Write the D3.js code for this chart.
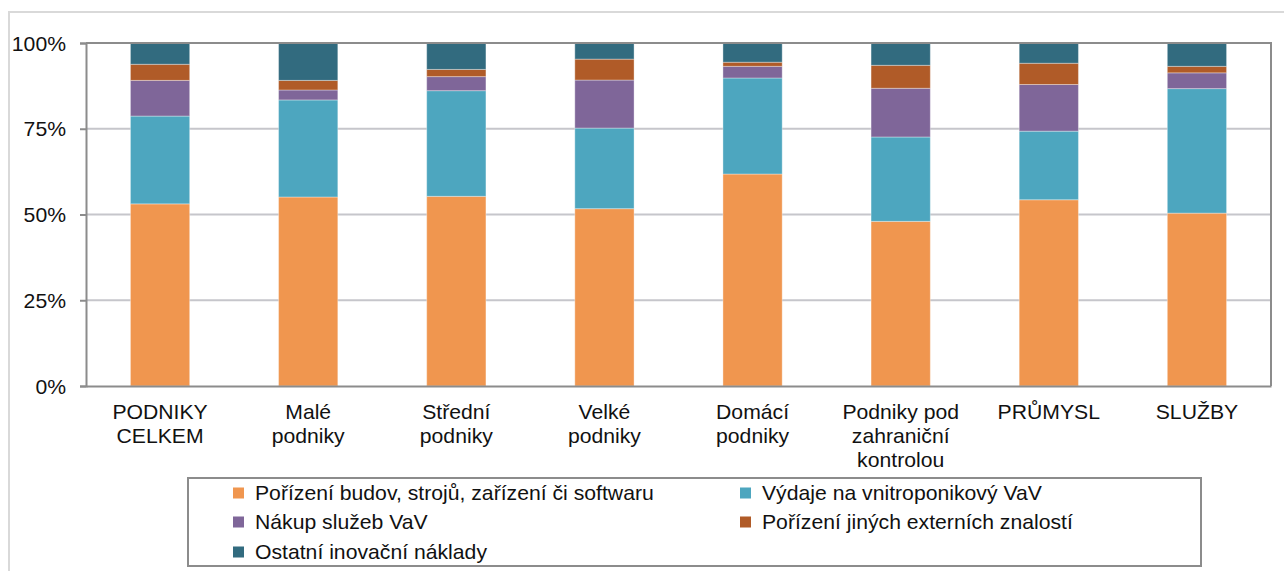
<!DOCTYPE html>
<html>
<head>
<meta charset="utf-8">
<script src="https://cdn.jsdelivr.net/npm/d3@7"></script>
<style>
  body { margin: 0; background: #fff; }
  text { font-family: "Liberation Sans", Arial, sans-serif; fill: #111; }
</style>
</head>
<body>
<div id="chart"></div>
<script>
// categories (x axis), lines split with "\n"
const categories = ["PODNIKY\nCELKEM", "Malé\npodniky", "Střední\npodniky", "Velké\npodniky",
  "Domácí\npodniky", "Podniky pod\nzahraniční\nkontrolou", "PRŮMYSL", "SLUŽBY"];

const seriesNames = ["Pořízení budov, strojů, zařízení či softwaru", "Výdaje na vnitroponikový VaV",
  "Nákup služeb VaV", "Pořízení jiných externích znalostí", "Ostatní inovační náklady"];

// shares in %, one array per series, in category order
const porizeniBudov = [53.1, 55.1, 55.3, 51.7, 61.8, 48.0, 54.3, 50.4];
const vydajeVaV     = [25.6, 28.3, 30.8, 23.5, 28.0, 24.6, 20.0, 36.3];
const nakupVaV      = [10.4, 2.9, 4.1, 14.0, 3.4, 14.2, 13.6, 4.6];
const jineZnalosti  = [4.7, 2.8, 2.1, 6.1, 1.2, 6.7, 6.2, 1.9];
const ostatni       = [6.2, 10.9, 7.7, 4.7, 5.6, 6.5, 5.9, 6.8];

const yTicks = [0, 25, 50, 75, 100];
const colors = ["#f0964f", "#4da6bf", "#7f6699", "#b05b28", "#326b7f"];

const seriesValues = [porizeniBudov, vydajeVaV, nakupVaV, jineZnalosti, ostatni];
const keys = seriesNames;
const table = categories.map(function(c, i) {
  const row = {cat: c};
  keys.forEach(function(k, j) { row[k] = seriesValues[j][i]; });
  return row;
});

const W = 1284, H = 571;
const plot = {left: 86, right: 1271, top: 43, bottom: 386};
const fs = 20, stretch = 1.06; // source text is a bit wide

const svg = d3.select("#chart").append("svg")
  .attr("width", W).attr("height", H);

// outer chart frame
svg.append("rect")
  .attr("x", 9).attr("y", 12).attr("width", W + 20).attr("height", H + 20)
  .attr("fill", "none").attr("stroke", "#d9d9d9").attr("stroke-width", 2);

const x = d3.scaleBand()
  .domain(categories)
  .range([plot.left, plot.right])
  .paddingInner(0.6).paddingOuter(0.3);

const y = d3.scaleLinear()
  .domain([0, 100])
  .range([plot.bottom, plot.top]);

// gridlines
svg.append("g").selectAll("line")
  .data(yTicks.slice(1, -1))
  .enter().append("line")
  .attr("x1", plot.left).attr("x2", plot.right)
  .attr("y1", function(d) { return y(d); })
  .attr("y2", function(d) { return y(d); })
  .attr("stroke", "#c6c6cb").attr("stroke-width", 2);

const stack = d3.stack().keys(keys)(table);

svg.append("g").selectAll("g")
  .data(stack)
  .enter().append("g")
  .attr("fill", function(d, i) { return colors[i]; })
  .selectAll("rect")
  .data(function(d) { return d; })
  .enter().append("rect")
  .attr("x", function(d) { return x(d.data.cat); })
  .attr("width", x.bandwidth())
  .attr("y", function(d) { return y(d[1]); })
  .attr("height", function(d) { return y(d[0]) - y(d[1]); })
  .attr("stroke", "#ffffff").attr("stroke-opacity", 0.35).attr("stroke-width", 1);

// plot frame (top + right) and axes
svg.append("path")
  .attr("d", "M" + plot.left + "," + plot.top + "H" + plot.right + "V" + plot.bottom)
  .attr("fill", "none").attr("stroke", "#8c8c8c").attr("stroke-width", 2);

const yAxis = svg.append("g")
  .attr("transform", "translate(" + plot.left + ",0)")
  .call(d3.axisLeft(y).tickValues(yTicks).tickSize(6).tickPadding(14)
    .tickFormat(function(d) { return d + "%"; }));
yAxis.select(".domain").attr("stroke", "#8c8c8c").attr("stroke-width", 2);
yAxis.selectAll(".tick line").attr("stroke", "#8c8c8c").attr("stroke-width", 2);
yAxis.selectAll(".tick text").attr("font-size", fs).attr("dy", "0.35em")
  .attr("x", -20 / stretch).attr("transform", "scale(" + stretch + ",1)")
  .style("font-family", "'Liberation Sans', Arial, sans-serif").attr("fill", "#111");

const xAxis = svg.append("g")
  .attr("transform", "translate(0," + plot.bottom + ")")
  .call(d3.axisBottom(x).tickSize(0).tickFormat(""));
xAxis.select(".domain").attr("stroke", "#8c8c8c").attr("stroke-width", 2);

// multi-line category labels
xAxis.selectAll(".tick").each(function(d) {
  const t = d3.select(this).append("text")
    .attr("text-anchor", "middle")
    .attr("font-size", fs)
    .attr("transform", "scale(" + stretch + ",1)")
    .attr("y", 33);
  d.split("\n").forEach(function(line, i) {
    t.append("tspan").attr("x", 0).attr("dy", i === 0 ? 0 : 24).text(line);
  });
});

// legend
const legend = svg.append("g");
legend.append("rect")
  .attr("x", 188).attr("y", 478).attr("width", 1013).attr("height", 88)
  .attr("fill", "#fff").attr("stroke", "#8c8c8c").attr("stroke-width", 2);

const legendPos = [[233, 493], [740, 493], [233, 522], [740, 522], [233, 552]];
const li = legend.selectAll("g.item")
  .data(seriesNames)
  .enter().append("g").attr("class", "item")
  .attr("transform", function(d, i) { return "translate(" + legendPos[i][0] + "," + legendPos[i][1] + ")"; });
li.append("rect")
  .attr("x", 0).attr("y", -5.5).attr("width", 11).attr("height", 11)
  .attr("fill", function(d, i) { return colors[i]; });
li.append("text")
  .attr("x", 22 / stretch).attr("y", 7)
  .attr("transform", "scale(" + stretch + ",1)")
  .attr("font-size", fs)
  .text(function(d) { return d; });
</script>
</body>
</html>
